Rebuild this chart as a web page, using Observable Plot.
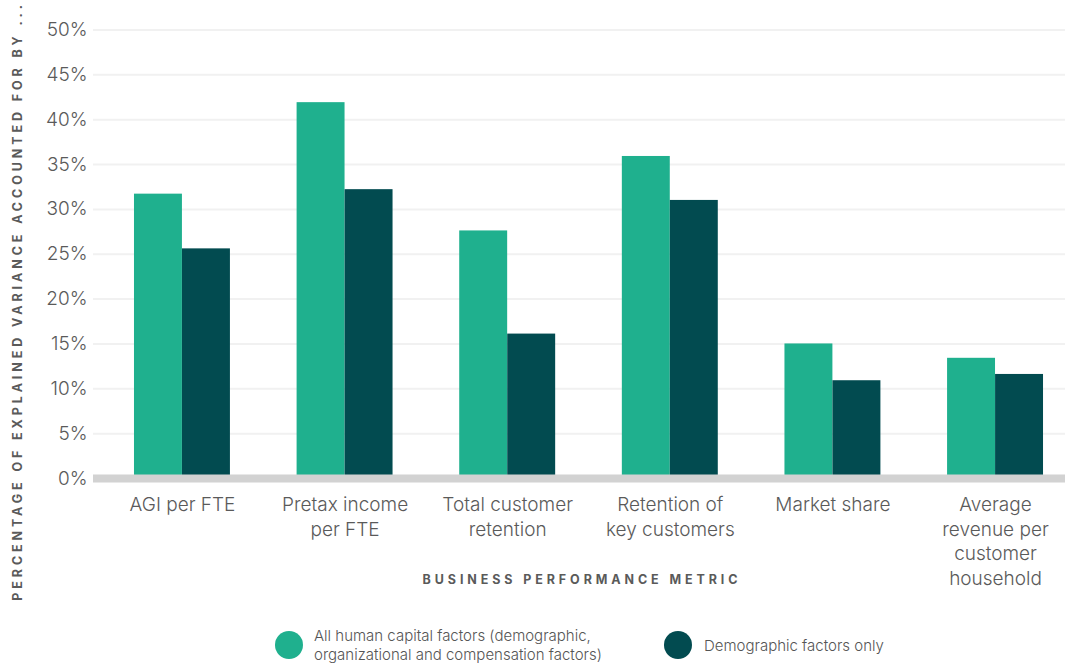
<!DOCTYPE html>
<html>
<head>
<meta charset="utf-8">
<script src="https://cdn.jsdelivr.net/npm/d3@7"></script>
<script src="https://cdn.jsdelivr.net/npm/@observablehq/plot@0.6"></script>
<style>
  html, body { margin: 0; padding: 0; background: #fff; }
  body { width: 1065px; height: 664px; overflow: hidden; font-family: Inter, Roboto, "Noto Sans", sans-serif; }
  #chart svg { display: block; overflow: visible; }
  .legend { position: relative; height: 52px; width: 1065px; font-size: 15px; color: #555; font-weight: 300; }
  .legend .sw { position: absolute; width: 28px; height: 28px; border-radius: 50%; top: 19px; }
  .legend .lb { position: absolute; line-height: 19px; }
</style>
</head>
<body>
<div id="chart"></div>
<div class="legend" id="legend"></div>
<script>
const metrics = ["AGI per FTE", "Pretax income per FTE", "Total customer retention", "Retention of key customers", "Market share", "Average revenue per customer household"];
const metricLabels = ["AGI per FTE", "Pretax income\nper FTE", "Total customer\nretention", "Retention of\nkey customers", "Market share", "Average\nrevenue per\ncustomer\nhousehold"];
const seriesNames = ["All human capital factors (demographic, organizational and compensation factors)", "Demographic factors only"];
const allFactors = [31.7, 41.9, 27.6, 35.9, 15.0, 13.4];
const demographicOnly = [25.6, 32.2, 16.1, 31.0, 10.9, 11.6];
const yTicks = [0, 5, 10, 15, 20, 25, 30, 35, 40, 45, 50];
const colors = ["#1fb08e", "#024b50"];
const yLabel = "PERCENTAGE OF EXPLAINED VARIANCE ACCOUNTED FOR BY ...";
const xLabel = "BUSINESS PERFORMANCE METRIC";

const rows = metrics.map((m, i) => ({metric: m, label: metricLabels[i], a: allFactors[i], d: demographicOnly[i]}));

const W = 1065, H = 612;
const chart = Plot.plot({
  width: W,
  height: H,
  marginLeft: 93,
  marginRight: 0,
  marginTop: 29.5,
  marginBottom: H - 478,
  style: {fontFamily: "Inter, Roboto, 'Noto Sans', sans-serif", background: "transparent"},
  x: {domain: metrics, range: [93, 1084], paddingInner: 0.41, paddingOuter: 0.252, round: false, axis: null},
  y: {domain: [0, 50], axis: null},
  marks: [
    Plot.ruleY(yTicks.filter(t => t > 0), {stroke: "#f1f1f1", strokeWidth: 2}),
    Plot.text(yTicks, {x: null, y: d => d, text: d => d + "%", frameAnchor: "left", dx: -6, textAnchor: "end", fontSize: 19, fill: "#5a5a5a", fontWeight: 300}),
    Plot.barY(rows, {x: "metric", y: "a", fill: colors[0], insetRight: 48}),
    Plot.barY(rows, {x: "metric", y: "d", fill: colors[1], insetLeft: 48}),
    Plot.ruleY([0], {stroke: "#d2d2d2", strokeWidth: 8}),
    Plot.text(rows, {x: "metric", y: 0, text: "label", lineAnchor: "top", dy: 15.5, fontSize: 19, lineHeight: 1.29, fill: "#5a5a5a", fontWeight: 300})
  ]
});
const svg = d3.select(chart.tagName === "svg" ? chart : chart.querySelector("svg"));
svg.append("text")
  .attr("transform", "translate(22,301) rotate(-90)")
  .attr("text-anchor", "middle")
  .attr("font-size", 12.5)
  .attr("font-weight", 700)
  .attr("letter-spacing", "3.9px")
  .attr("fill", "#5a5a5a")
  .text(yLabel);
svg.append("text")
  .attr("x", 582)
  .attr("y", 584)
  .attr("text-anchor", "middle")
  .attr("font-size", 12.5)
  .attr("font-weight", 700)
  .attr("letter-spacing", "3.9px")
  .attr("fill", "#5a5a5a")
  .text(xLabel);
document.getElementById("chart").appendChild(chart);

const leg = document.getElementById("legend");
const items = [
  {name: seriesNames[0], lines: ["All human capital factors (demographic,", "organizational and compensation factors)"], cx: 289, tx: 314, color: colors[0]},
  {name: seriesNames[1], lines: ["Demographic factors only"], cx: 678, tx: 704, color: colors[1]}
];
items.forEach(it => {
  const sw = document.createElement("div");
  sw.className = "sw";
  sw.style.left = (it.cx - 14) + "px";
  sw.style.background = it.color;
  leg.appendChild(sw);
  const lb = document.createElement("div");
  lb.className = "lb";
  lb.style.left = it.tx + "px";
  lb.style.top = (33 - it.lines.length * 19 / 2) + "px";
  lb.innerHTML = it.lines.join("<br>");
  leg.appendChild(lb);
});
</script>
</body>
</html>
